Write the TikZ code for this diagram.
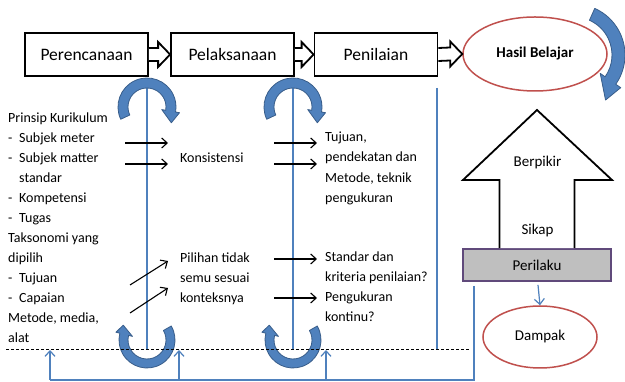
\documentclass[tikz,border=0pt]{standalone}
\usepackage{fontspec}
\setmainfont{Carlito}
\usetikzlibrary{arrows.meta,shapes.geometric}

\definecolor{lineblue}{HTML}{4F81BD}
\definecolor{arcblue}{HTML}{4F81BD}
\definecolor{arcedge}{HTML}{385D8A}
\definecolor{ringred}{HTML}{C0504D}
\definecolor{boxpurple}{HTML}{604A7B}
\definecolor{boxgray}{HTML}{BFBFBF}

% list dash with a fixed indent for the item text
\newcommand{\itemdash}{\makebox[11pt][l]{-}}

% curved block arrow: #1 centre, #2 outer radius, #3 inner radius,
% #4 start angle, #5 angle of the head base, #6 tip angle, #7 tip radius, #8 head overhang
\newcommand{\bendarrow}[8]{%
  \path[bendstyle, shift={#1}] (#4:#2) arc[start angle=#4, end angle=#5, radius=#2]
    -- ({#5}:{#2+#8}) -- ({#6}:{#7}) -- ({#5}:{#3-#8}) -- ({#5}:{#3})
    arc[start angle=#5, end angle=#4, radius=#3] -- cycle;}

\tikzset{
  stage/.style={draw, line width=1.8pt, minimum width=123pt, minimum height=43pt,
    inner sep=0pt, font=\fontsize{17.5}{21}\selectfont},
  blk/.style={draw, line width=1.8pt, fill=white, line join=miter},
  body/.style={inner sep=0pt, anchor=base west, font=\fontsize{14}{20}\selectfont},
  label/.style={inner sep=0pt, font=\fontsize{15}{18}\selectfont},
  ring/.style={ellipse, draw=ringred, line width=1.5pt, inner sep=0pt},
  guide/.style={draw=lineblue, line width=1.2pt},
  bendstyle/.style={fill=arcblue, draw=arcedge, line width=0.8pt, line join=round},
  pointer/.style={-{Straight Barb[length=5.5pt,width=10pt]}, line width=1.1pt},
  bluetip/.style={-{Straight Barb[length=5.5pt,width=10pt]}},
}

\begin{document}
\begin{tikzpicture}[x=1pt,y=1pt]
\useasboundingbox (0,0) rectangle (625,382);
\fill[white] (0,0) rectangle (625,382);

% vertical guide lines
\coordinate (dashL) at (6,32);
\coordinate (dashR) at (470,32);
\coordinate (v1top) at (147,294);
\coordinate (v2top) at (293,294);
\coordinate (v3top) at (437,294);
\draw[guide] (v1top) -- (v1top |- dashL);
\draw[guide] (v2top) -- (v2top |- dashL);
\draw[guide] (v3top) -- (v3top |- dashL);

% curved feedback arrows
\bendarrow{(147,275)}{29}{19}{205}{-10}{-33}{29}{4}
\bendarrow{(293,275)}{29}{19}{205}{-10}{-33}{29}{4}
\bendarrow{(147,42)}{28}{19}{30}{-194}{-212}{28}{4}
\bendarrow{(293,42)}{28}{19}{30}{-194}{-212}{28}{4}
\bendarrow{(574,327)}{51}{38}{66}{-35}{-55}{55}{6}

% dashed baseline
\draw[line width=1pt, dash pattern=on 3pt off 2pt] (dashL) -- (dashR);

% stage boxes
\node[stage] (plan) at (86.5,327.5) {Perencanaan};
\node[stage] (exec) at (232.5,327.5) {Pelaksanaan};
\node[stage] (eval) at (376,327.5) {Penilaian};
\node[ring, minimum width=144pt, minimum height=74pt,
  font=\fontsize{15}{18}\selectfont\bfseries] (result) at (535,328) {Hasil Belajar};

% block arrows between the stages
\foreach \a/\b in {plan/exec, exec/eval, eval/result}{
  \draw[blk] ([yshift=6.5pt]\a.east) -- ([xshift=-12pt,yshift=6.5pt]\b.west)
    -- ([xshift=-12pt,yshift=12.5pt]\b.west) -- (\b.west)
    -- ([xshift=-12pt,yshift=-12.5pt]\b.west) -- ([xshift=-12pt,yshift=-6.5pt]\b.west)
    -- ([yshift=-6.5pt]\a.east);
}

% behaviour box, upward arrow and impact
\node[draw=boxpurple, fill=boxgray, line width=1.8pt, minimum width=148pt,
  minimum height=32pt, inner sep=0pt, font=\fontsize{15}{18}\selectfont] (behave) at (537,117) {Perilaku};
\draw[blk] ([xshift=-37.5pt]behave.north) -- ++(0,68) -- (463,202) -- (537,272)
  -- (612,202) -- ([xshift=37.5pt]behave.north |- 0,202) -- ([xshift=37.5pt]behave.north);
\node[label] (think) at (537.5,219) {Berpikir};
\node[label] (attitude) at (537.5,151) {Sikap};
\node[ring, minimum width=114pt, minimum height=62pt, font=\fontsize{15}{18}\selectfont] (impact) at (540,45) {Dampak};
\draw[guide, bluetip] ([xshift=1pt,yshift=-3pt]behave.south) -- (impact.north);

% feedback line along the bottom
\coordinate (base1) at (50,2);
\coordinate (base2) at (179,2);
\coordinate (base3) at (326,2);
\draw[guide] ([xshift=-63pt,yshift=-4pt]behave.south) |- (base1);
\draw[guide, bluetip] (base1) -- (base1 |- dashL);
\draw[guide, bluetip] (base2) -- (base2 |- dashL);
\draw[guide, bluetip] (base3) -- (base3 |- dashL);

% left column
\foreach \txt [count=\i from 0] in {Prinsip Kurikulum, \itemdash Subjek meter,
  \itemdash Subjek matter, \hspace*{11pt}standar, \itemdash Kompetensi, \itemdash Tugas,
  Taksonomi yang, dipilih, \itemdash Tujuan, \itemdash Capaian, {Metode, media,}, alat}
  \node[body, name=left\i] at (8,259.5-20*\i) {\txt};

% middle column
\node[body] (consist) at (180,219.5) {Konsistensi};
\node[body] (choice1) at (180,119.5) {Pilihan tidak};
\node[body] (choice2) at (180,99.5) {semu sesuai};
\node[body] (choice3) at (180,79.5) {konteksnya};

% right column
\node[body] (goal1) at (325,240.5) {Tujuan,};
\node[body] (goal2) at (325,220) {pendekatan dan};
\node[body] (goal3) at (325,199.5) {Metode, teknik};
\node[body] (goal4) at (325,179) {pengukuran};
\node[body] (crit1) at (325,120.5) {Standar dan};
\node[body] (crit2) at (325,100.5) {kriteria penilaian?};
\node[body] (crit3) at (325,80.5) {Pengukuran};
\node[body] (crit4) at (325,60.5) {kontinu?};

% small black pointers
\coordinate (p1a) at (125,239); \coordinate (p1b) at (168,239);
\coordinate (p2a) at (125,218); \coordinate (p2b) at (168,218);
\coordinate (p3a) at (274,239); \coordinate (p3b) at (317,239);
\coordinate (p4a) at (274,218); \coordinate (p4b) at (317,218);
\coordinate (p5a) at (130,97);  \coordinate (p5b) at (168,121);
\coordinate (p6a) at (130,69);  \coordinate (p6b) at (168,94);
\coordinate (p7a) at (274,123); \coordinate (p7b) at (317,123);
\coordinate (p8a) at (274,84);  \coordinate (p8b) at (317,84);
\foreach \k in {1,...,8} \draw[pointer] (p\k a) -- (p\k b);
\end{tikzpicture}
\end{document}
